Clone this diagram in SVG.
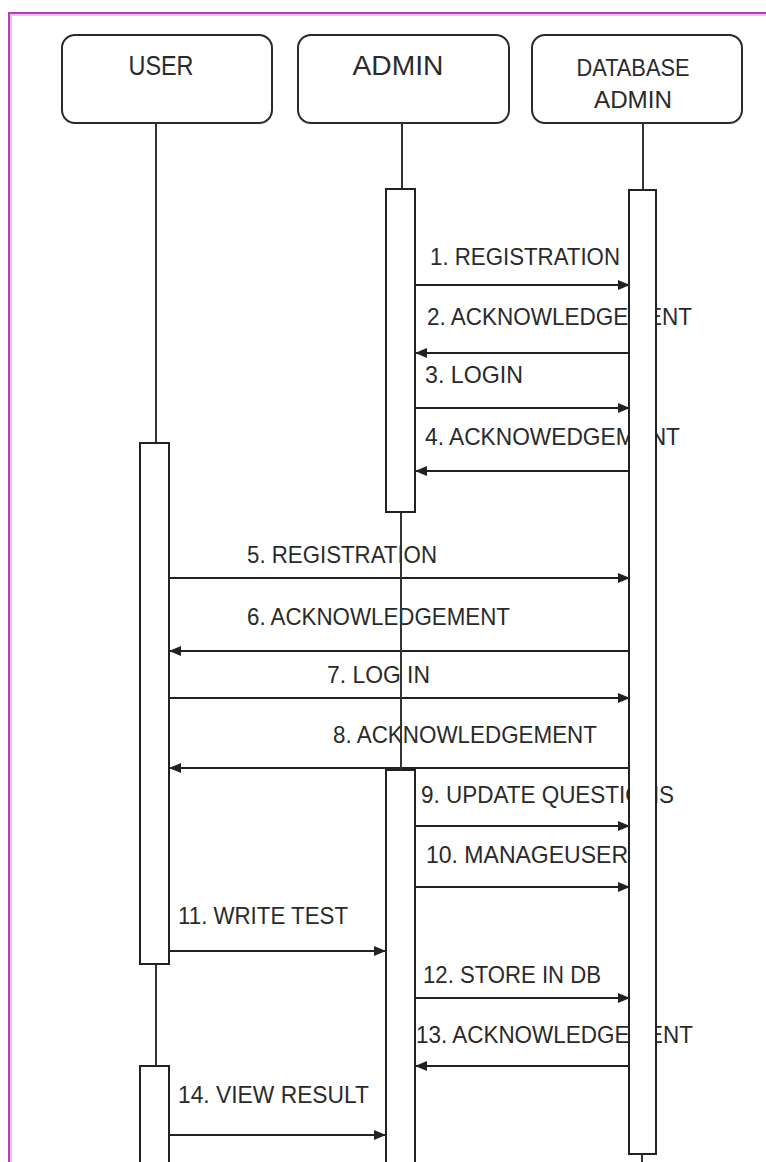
<svg xmlns="http://www.w3.org/2000/svg" width="766" height="1162" viewBox="0 0 766 1162">
<style>
.hdr{fill:#fff;stroke:#2a2a2a;stroke-width:2}
.act{fill:#fff;stroke:#222;stroke-width:2}
.life{stroke:#333;stroke-width:2;fill:none}
.msg{stroke:#222;stroke-width:2;fill:none}
.t{font-family:"Liberation Sans",Arial,sans-serif;fill:#2a2a2a}
.lbl{font-size:24px}
.h1{font-size:28px;text-anchor:middle}
.h2{font-size:24px;text-anchor:middle}
</style>
<defs>
<marker id="ah" viewBox="0 0 12 10" refX="12" refY="5" markerWidth="12" markerHeight="10" markerUnits="userSpaceOnUse" orient="auto">
<path d="M0,0 L12,5 L0,10 Z" fill="#222"/>
</marker>
</defs>
<rect width="766" height="1162" fill="#fff"/>
<g id="frame">
<line x1="9" y1="15" x2="766" y2="15" stroke="#ecc0ec" stroke-width="2"/>
<line x1="11" y1="13" x2="11" y2="1162" stroke="#ecc0ec" stroke-width="2"/>
<line x1="9" y1="13" x2="766" y2="13" stroke="#b83cb8" stroke-width="2"/>
<line x1="9" y1="12" x2="9" y2="1162" stroke="#b83cb8" stroke-width="2"/>
</g>
<g id="labels" class="t lbl">
<text x="430" y="265" textLength="190" lengthAdjust="spacingAndGlyphs">1. REGISTRATION</text>
<text x="427" y="325" textLength="265" lengthAdjust="spacingAndGlyphs">2. ACKNOWLEDGEMENT</text>
<text x="425" y="383" textLength="98" lengthAdjust="spacingAndGlyphs">3. LOGIN</text>
<text x="425" y="445" textLength="255" lengthAdjust="spacingAndGlyphs">4. ACKNOWEDGEMENT</text>
<text x="247" y="563" textLength="190" lengthAdjust="spacingAndGlyphs">5. REGISTRATION</text>
<text x="247" y="625" textLength="263" lengthAdjust="spacingAndGlyphs">6. ACKNOWLEDGEMENT</text>
<text x="327" y="683" textLength="103" lengthAdjust="spacingAndGlyphs">7. LOG IN</text>
<text x="333" y="743" textLength="264" lengthAdjust="spacingAndGlyphs">8. ACKNOWLEDGEMENT</text>
<text x="421" y="803" textLength="253" lengthAdjust="spacingAndGlyphs">9. UPDATE QUESTIONS</text>
<text x="426" y="863" textLength="202" lengthAdjust="spacingAndGlyphs">10. MANAGEUSER</text>
<text x="178" y="924" textLength="170" lengthAdjust="spacingAndGlyphs">11. WRITE TEST</text>
<text x="423" y="983" textLength="178" lengthAdjust="spacingAndGlyphs">12. STORE IN DB</text>
<text x="416" y="1043" textLength="277" lengthAdjust="spacingAndGlyphs">13. ACKNOWLEDGEMENT</text>
<text x="178" y="1103" textLength="191" lengthAdjust="spacingAndGlyphs">14. VIEW RESULT</text>
</g>
<g id="connectors">
<line class="msg" x1="415" y1="285" x2="630" y2="285" marker-end="url(#ah)"/>
<line class="msg" x1="629" y1="353" x2="415" y2="353" marker-end="url(#ah)"/>
<line class="msg" x1="415" y1="408" x2="630" y2="408" marker-end="url(#ah)"/>
<line class="msg" x1="629" y1="471" x2="415" y2="471" marker-end="url(#ah)"/>
<line class="msg" x1="169" y1="578" x2="630" y2="578" marker-end="url(#ah)"/>
<line class="msg" x1="629" y1="651" x2="169" y2="651" marker-end="url(#ah)"/>
<line class="msg" x1="169" y1="698" x2="630" y2="698" marker-end="url(#ah)"/>
<line class="msg" x1="629" y1="768" x2="169" y2="768" marker-end="url(#ah)"/>
<line class="msg" x1="415" y1="826" x2="630" y2="826" marker-end="url(#ah)"/>
<line class="msg" x1="415" y1="887" x2="630" y2="887" marker-end="url(#ah)"/>
<line class="msg" x1="169" y1="951" x2="386" y2="951" marker-end="url(#ah)"/>
<line class="msg" x1="415" y1="998" x2="630" y2="998" marker-end="url(#ah)"/>
<line class="msg" x1="629" y1="1066" x2="415" y2="1066" marker-end="url(#ah)"/>
<line class="msg" x1="169" y1="1135" x2="386" y2="1135" marker-end="url(#ah)"/>
</g>
<g id="user">
<rect class="hdr" x="62" y="35" width="210" height="88" rx="13"/>
<text class="t h1" x="161" y="75" textLength="65" lengthAdjust="spacingAndGlyphs">USER</text>
<line class="life" x1="156" y1="123" x2="156" y2="443"/>
<line class="life" x1="156" y1="964" x2="156" y2="1066"/>
<rect class="act" x="140" y="443" width="29" height="521"/>
<rect class="act" x="140" y="1066" width="29" height="110"/>
</g>
<g id="admin">
<rect class="hdr" x="298" y="35" width="211" height="88" rx="13"/>
<text class="t h1" x="398" y="75" textLength="91" lengthAdjust="spacingAndGlyphs">ADMIN</text>
<line class="life" x1="402" y1="123" x2="402" y2="189"/>
<line class="life" x1="401" y1="512" x2="401" y2="770"/>
<rect class="act" x="386" y="189" width="29" height="323"/>
<rect class="act" x="386" y="770" width="29" height="410"/>
</g>
<g id="database-admin">
<rect class="hdr" x="532" y="35" width="210" height="88" rx="13"/>
<text class="t h2" x="633" y="76" textLength="113" lengthAdjust="spacingAndGlyphs">DATABASE</text>
<text class="t h2" x="633" y="108" textLength="78" lengthAdjust="spacingAndGlyphs">ADMIN</text>
<line class="life" x1="643" y1="123" x2="643" y2="190"/>
<line class="life" x1="642" y1="1154" x2="642" y2="1162"/>
<rect class="act" x="629" y="190" width="27" height="964"/>
</g>
</svg>
